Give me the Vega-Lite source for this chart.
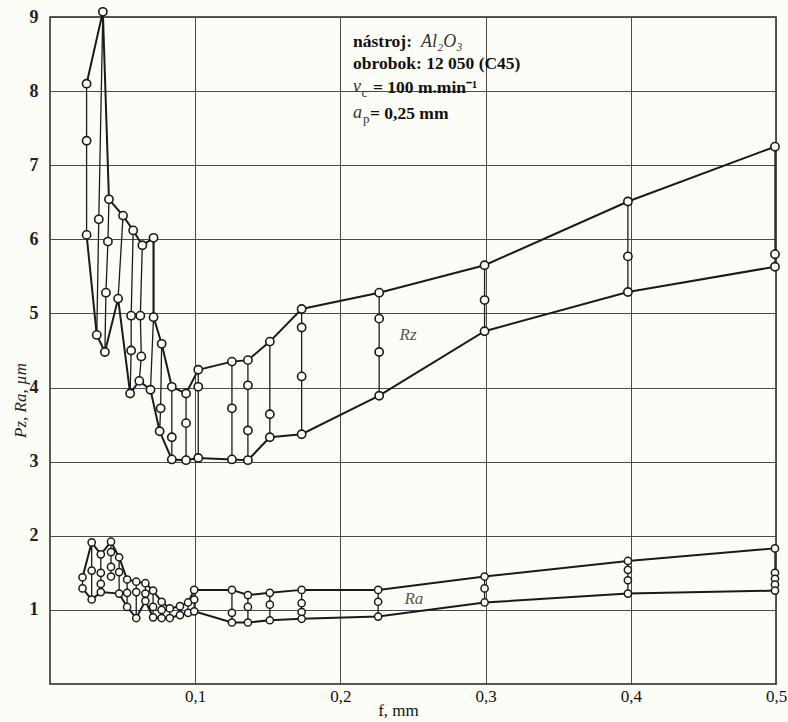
{
  "$schema": "https://vega.github.io/schema/vega-lite/v6.json",
  "width": 726,
  "height": 667,
  "autosize": {"type": "none"},
  "padding": {"left": 50, "top": 17, "right": 12, "bottom": 38},
  "background": "#fdfdf8",
  "config": {"view": {"stroke": "#222222", "strokeWidth": 1.5}, "font": "Liberation Serif"},
  "datasets": {
    "pts": [
      {"s":"Rz","c":"Z1","f":0.0252,"v":8.1},{"s":"Rz","c":"Z1","f":0.0252,"v":7.33},{"s":"Rz","c":"Z1","f":0.0252,"v":6.06},
      {"s":"Rz","c":"Z2","f":0.0364,"v":9.07},{"s":"Rz","c":"Z2","f":0.0336,"v":6.27},{"s":"Rz","c":"Z2","f":0.0322,"v":4.71},
      {"s":"Rz","c":"Z3","f":0.0406,"v":6.54},{"s":"Rz","c":"Z3","f":0.0399,"v":5.97},{"s":"Rz","c":"Z3","f":0.0385,"v":5.28},{"s":"Rz","c":"Z3","f":0.0378,"v":4.48},
      {"s":"Rz","c":"Z4","f":0.0503,"v":6.32},{"s":"Rz","c":"Z4","f":0.0469,"v":5.2},
      {"s":"Rz","c":"Z5","f":0.0573,"v":6.12},{"s":"Rz","c":"Z5","f":0.0559,"v":4.97},{"s":"Rz","c":"Z5","f":0.0559,"v":4.5},{"s":"Rz","c":"Z5","f":0.0552,"v":3.92},
      {"s":"Rz","c":"Z6","f":0.0636,"v":5.92},{"s":"Rz","c":"Z6","f":0.0622,"v":4.97},{"s":"Rz","c":"Z6","f":0.0629,"v":4.42},{"s":"Rz","c":"Z6","f":0.0615,"v":4.09},
      {"s":"Rz","c":"Z7","f":0.0713,"v":6.02},{"s":"Rz","c":"Z7","f":0.0713,"v":4.95},{"s":"Rz","c":"Z7","f":0.0692,"v":3.97},
      {"s":"Rz","c":"Z8","f":0.0769,"v":4.59},{"s":"Rz","c":"Z8","f":0.0762,"v":3.72},{"s":"Rz","c":"Z8","f":0.0755,"v":3.41},
      {"s":"Rz","c":"Z9","f":0.0839,"v":4.01},{"s":"Rz","c":"Z9","f":0.0839,"v":3.33},{"s":"Rz","c":"Z9","f":0.0839,"v":3.03},
      {"s":"Rz","c":"Z10","f":0.0937,"v":3.92},{"s":"Rz","c":"Z10","f":0.0937,"v":3.52},{"s":"Rz","c":"Z10","f":0.0937,"v":3.02},
      {"s":"Rz","c":"Z11","f":0.1021,"v":4.24},{"s":"Rz","c":"Z11","f":0.1021,"v":4.01},{"s":"Rz","c":"Z11","f":0.1021,"v":3.05},
      {"s":"Rz","c":"Z12","f":0.1253,"v":4.35},{"s":"Rz","c":"Z12","f":0.1253,"v":3.72},{"s":"Rz","c":"Z12","f":0.1253,"v":3.03},
      {"s":"Rz","c":"Z13","f":0.1363,"v":4.37},{"s":"Rz","c":"Z13","f":0.1363,"v":4.03},{"s":"Rz","c":"Z13","f":0.1363,"v":3.42},{"s":"Rz","c":"Z13","f":0.1363,"v":3.02},
      {"s":"Rz","c":"Z14","f":0.1514,"v":4.62},{"s":"Rz","c":"Z14","f":0.1514,"v":3.64},{"s":"Rz","c":"Z14","f":0.1514,"v":3.33},
      {"s":"Rz","c":"Z15","f":0.1733,"v":5.06},{"s":"Rz","c":"Z15","f":0.1733,"v":4.81},{"s":"Rz","c":"Z15","f":0.1733,"v":4.15},{"s":"Rz","c":"Z15","f":0.1733,"v":3.37},
      {"s":"Rz","c":"Z16","f":0.2267,"v":5.28},{"s":"Rz","c":"Z16","f":0.2267,"v":4.93},{"s":"Rz","c":"Z16","f":0.2267,"v":4.48},{"s":"Rz","c":"Z16","f":0.2267,"v":3.89},
      {"s":"Rz","c":"Z17","f":0.2993,"v":5.65},{"s":"Rz","c":"Z17","f":0.2993,"v":5.18},{"s":"Rz","c":"Z17","f":0.2993,"v":4.76},
      {"s":"Rz","c":"Z18","f":0.398,"v":6.51},{"s":"Rz","c":"Z18","f":0.398,"v":5.77},{"s":"Rz","c":"Z18","f":0.398,"v":5.29},
      {"s":"Rz","c":"Z19","f":0.4993,"v":7.25},{"s":"Rz","c":"Z19","f":0.4993,"v":5.8},{"s":"Rz","c":"Z19","f":0.4993,"v":5.63},
      {"s":"Ra","c":"A1","f":0.0224,"v":1.44},{"s":"Ra","c":"A1","f":0.0224,"v":1.29},
      {"s":"Ra","c":"A2","f":0.0287,"v":1.91},{"s":"Ra","c":"A2","f":0.0287,"v":1.53},{"s":"Ra","c":"A2","f":0.0287,"v":1.14},
      {"s":"Ra","c":"A3","f":0.035,"v":1.75},{"s":"Ra","c":"A3","f":0.035,"v":1.5},{"s":"Ra","c":"A3","f":0.035,"v":1.35},{"s":"Ra","c":"A3","f":0.035,"v":1.24},
      {"s":"Ra","c":"A4","f":0.042,"v":1.92},{"s":"Ra","c":"A4","f":0.042,"v":1.78},{"s":"Ra","c":"A4","f":0.042,"v":1.58},{"s":"Ra","c":"A4","f":0.042,"v":1.45},
      {"s":"Ra","c":"A5","f":0.0476,"v":1.71},{"s":"Ra","c":"A5","f":0.0476,"v":1.51},{"s":"Ra","c":"A5","f":0.0476,"v":1.22},
      {"s":"Ra","c":"A6","f":0.0531,"v":1.41},{"s":"Ra","c":"A6","f":0.0531,"v":1.23},{"s":"Ra","c":"A6","f":0.0531,"v":1.04},
      {"s":"Ra","c":"A7","f":0.0594,"v":1.38},{"s":"Ra","c":"A7","f":0.0594,"v":1.24},{"s":"Ra","c":"A7","f":0.0594,"v":0.89},
      {"s":"Ra","c":"A8","f":0.0657,"v":1.36},{"s":"Ra","c":"A8","f":0.0657,"v":1.22},{"s":"Ra","c":"A8","f":0.0657,"v":1.12},
      {"s":"Ra","c":"A9","f":0.071,"v":1.26},{"s":"Ra","c":"A9","f":0.071,"v":1.04},{"s":"Ra","c":"A9","f":0.071,"v":0.9},
      {"s":"Ra","c":"A10","f":0.0769,"v":1.11},{"s":"Ra","c":"A10","f":0.0769,"v":1.0},{"s":"Ra","c":"A10","f":0.0769,"v":0.89},
      {"s":"Ra","c":"A11","f":0.0825,"v":1.02},{"s":"Ra","c":"A11","f":0.0825,"v":0.89},
      {"s":"Ra","c":"A12","f":0.0895,"v":1.05},{"s":"Ra","c":"A12","f":0.0895,"v":0.93},
      {"s":"Ra","c":"A13","f":0.0951,"v":1.1},{"s":"Ra","c":"A13","f":0.0951,"v":0.96},
      {"s":"Ra","c":"A14","f":0.0993,"v":1.27},{"s":"Ra","c":"A14","f":0.0993,"v":1.14},{"s":"Ra","c":"A14","f":0.0993,"v":0.98},
      {"s":"Ra","c":"A15","f":0.1253,"v":1.27},{"s":"Ra","c":"A15","f":0.1253,"v":0.96},{"s":"Ra","c":"A15","f":0.1253,"v":0.83},
      {"s":"Ra","c":"A16","f":0.1363,"v":1.2},{"s":"Ra","c":"A16","f":0.1363,"v":1.04},{"s":"Ra","c":"A16","f":0.1363,"v":0.83},
      {"s":"Ra","c":"A17","f":0.1514,"v":1.23},{"s":"Ra","c":"A17","f":0.1514,"v":1.07},{"s":"Ra","c":"A17","f":0.1514,"v":0.86},
      {"s":"Ra","c":"A18","f":0.1733,"v":1.27},{"s":"Ra","c":"A18","f":0.1733,"v":1.09},{"s":"Ra","c":"A18","f":0.1733,"v":0.97},{"s":"Ra","c":"A18","f":0.1733,"v":0.88},
      {"s":"Ra","c":"A19","f":0.226,"v":1.27},{"s":"Ra","c":"A19","f":0.226,"v":1.11},{"s":"Ra","c":"A19","f":0.226,"v":0.91},
      {"s":"Ra","c":"A20","f":0.2993,"v":1.45},{"s":"Ra","c":"A20","f":0.2993,"v":1.29},{"s":"Ra","c":"A20","f":0.2993,"v":1.1},
      {"s":"Ra","c":"A21","f":0.398,"v":1.66},{"s":"Ra","c":"A21","f":0.398,"v":1.54},{"s":"Ra","c":"A21","f":0.398,"v":1.4},{"s":"Ra","c":"A21","f":0.398,"v":1.22},
      {"s":"Ra","c":"A22","f":0.4993,"v":1.83},{"s":"Ra","c":"A22","f":0.4993,"v":1.5},{"s":"Ra","c":"A22","f":0.4993,"v":1.42},{"s":"Ra","c":"A22","f":0.4993,"v":1.34},{"s":"Ra","c":"A22","f":0.4993,"v":1.26}
    ],
    "env": [
      {"g":"Zu","i":1,"f":0.0252,"v":8.1},{"g":"Zu","i":2,"f":0.0364,"v":9.07},{"g":"Zu","i":3,"f":0.0406,"v":6.54},{"g":"Zu","i":4,"f":0.0503,"v":6.32},
      {"g":"Zu","i":5,"f":0.0573,"v":6.12},{"g":"Zu","i":6,"f":0.0636,"v":5.92},{"g":"Zu","i":7,"f":0.0713,"v":6.02},{"g":"Zu","i":8,"f":0.0713,"v":4.95},
      {"g":"Zu","i":9,"f":0.0769,"v":4.59},{"g":"Zu","i":10,"f":0.0839,"v":4.01},{"g":"Zu","i":11,"f":0.0937,"v":3.92},{"g":"Zu","i":12,"f":0.1021,"v":4.24},
      {"g":"Zu","i":13,"f":0.1253,"v":4.35},{"g":"Zu","i":14,"f":0.1363,"v":4.37},{"g":"Zu","i":15,"f":0.1514,"v":4.62},{"g":"Zu","i":16,"f":0.1733,"v":5.06},
      {"g":"Zu","i":17,"f":0.2267,"v":5.28},{"g":"Zu","i":18,"f":0.2993,"v":5.65},{"g":"Zu","i":19,"f":0.398,"v":6.51},{"g":"Zu","i":20,"f":0.4993,"v":7.25},
      {"g":"Zl","i":1,"f":0.0252,"v":6.06},{"g":"Zl","i":2,"f":0.0322,"v":4.71},{"g":"Zl","i":3,"f":0.0378,"v":4.48},{"g":"Zl","i":4,"f":0.0469,"v":5.2},
      {"g":"Zl","i":5,"f":0.0552,"v":3.92},{"g":"Zl","i":6,"f":0.0615,"v":4.09},{"g":"Zl","i":7,"f":0.0692,"v":3.97},{"g":"Zl","i":8,"f":0.0755,"v":3.41},
      {"g":"Zl","i":9,"f":0.0839,"v":3.03},{"g":"Zl","i":10,"f":0.0937,"v":3.02},{"g":"Zl","i":11,"f":0.1021,"v":3.05},{"g":"Zl","i":12,"f":0.1253,"v":3.03},
      {"g":"Zl","i":13,"f":0.1363,"v":3.02},{"g":"Zl","i":14,"f":0.1514,"v":3.33},{"g":"Zl","i":15,"f":0.1733,"v":3.37},{"g":"Zl","i":16,"f":0.2267,"v":3.89},
      {"g":"Zl","i":17,"f":0.2993,"v":4.76},{"g":"Zl","i":18,"f":0.398,"v":5.29},{"g":"Zl","i":19,"f":0.4993,"v":5.63},
      {"g":"Au","i":1,"f":0.0224,"v":1.44},{"g":"Au","i":2,"f":0.0287,"v":1.91},{"g":"Au","i":3,"f":0.035,"v":1.75},{"g":"Au","i":4,"f":0.042,"v":1.92},
      {"g":"Au","i":5,"f":0.0476,"v":1.71},{"g":"Au","i":6,"f":0.0531,"v":1.41},{"g":"Au","i":7,"f":0.0594,"v":1.38},{"g":"Au","i":8,"f":0.0657,"v":1.36},
      {"g":"Au","i":9,"f":0.071,"v":1.26},{"g":"Au","i":10,"f":0.0769,"v":1.11},{"g":"Au","i":11,"f":0.0825,"v":1.02},{"g":"Au","i":12,"f":0.0895,"v":1.05},
      {"g":"Au","i":13,"f":0.0951,"v":1.1},{"g":"Au","i":14,"f":0.0993,"v":1.27},{"g":"Au","i":15,"f":0.1253,"v":1.27},{"g":"Au","i":16,"f":0.1363,"v":1.2},
      {"g":"Au","i":17,"f":0.1514,"v":1.23},{"g":"Au","i":18,"f":0.1733,"v":1.27},{"g":"Au","i":19,"f":0.226,"v":1.27},{"g":"Au","i":20,"f":0.2993,"v":1.45},
      {"g":"Au","i":21,"f":0.398,"v":1.66},{"g":"Au","i":22,"f":0.4993,"v":1.83},
      {"g":"Al","i":1,"f":0.0224,"v":1.29},{"g":"Al","i":2,"f":0.0287,"v":1.14},{"g":"Al","i":3,"f":0.035,"v":1.24},{"g":"Al","i":4,"f":0.0476,"v":1.22},
      {"g":"Al","i":5,"f":0.0531,"v":1.04},{"g":"Al","i":6,"f":0.0594,"v":0.89},{"g":"Al","i":7,"f":0.0657,"v":1.12},{"g":"Al","i":8,"f":0.071,"v":0.9},
      {"g":"Al","i":9,"f":0.0769,"v":0.89},{"g":"Al","i":10,"f":0.0825,"v":0.89},{"g":"Al","i":11,"f":0.0895,"v":0.93},{"g":"Al","i":12,"f":0.0951,"v":0.96},
      {"g":"Al","i":13,"f":0.0993,"v":0.98},{"g":"Al","i":14,"f":0.1253,"v":0.83},{"g":"Al","i":15,"f":0.1363,"v":0.83},{"g":"Al","i":16,"f":0.1514,"v":0.86},
      {"g":"Al","i":17,"f":0.1733,"v":0.88},{"g":"Al","i":18,"f":0.226,"v":0.91},{"g":"Al","i":19,"f":0.2993,"v":1.1},{"g":"Al","i":20,"f":0.398,"v":1.22},
      {"g":"Al","i":21,"f":0.4993,"v":1.26}
    ],
    "notes": [
      {"role":"b","t":"nástroj:","f":0.2087,"v":8.66},
      {"role":"i","t":"Al₂O₃","f":0.2555,"v":8.66},
      {"role":"b","t":"obrobok: 12 050 (C45)","f":0.2087,"v":8.37},
      {"role":"i","t":"v","f":0.2087,"v":8.06},
      {"role":"s","t":"c","f":0.2145,"v":7.97},
      {"role":"b","t":"= 100 m.min⁻¹","f":0.2224,"v":8.04},
      {"role":"i","t":"a","f":0.2087,"v":7.71},
      {"role":"s","t":"p","f":0.2156,"v":7.63},
      {"role":"b","t":"= 0,25 mm","f":0.2204,"v":7.69},
      {"role":"g","t":"Rz","f":0.2466,"v":4.71},
      {"role":"g","t":"Ra","f":0.2506,"v":1.15}
    ]
  },
  "encoding": {
    "x": {
      "field": "f", "type": "quantitative",
      "scale": {"domain": [0, 0.5], "nice": false, "zero": false},
      "axis": {
        "values": [0.1, 0.2, 0.3, 0.4, 0.5],
        "grid": true, "gridColor": "#4a4a4a", "gridWidth": 1,
        "domain": false, "ticks": false, "labelPadding": 4, "labelFlush": false,
        "labelFont": "Liberation Serif", "labelFontSize": 17, "labelColor": "#111111",
        "labelExpr": "replace(format(datum.value, '.1f'), '.', ',')",
        "title": "f, mm", "titleFont": "Liberation Serif", "titleFontSize": 17,
        "titleFontWeight": "normal", "titleColor": "#111111",
        "titleX": 348, "titleY": 18, "titleBaseline": "top", "titleAlign": "center"
      }
    },
    "y": {
      "field": "v", "type": "quantitative",
      "scale": {"domain": [0, 9], "nice": false, "zero": false},
      "axis": {
        "values": [1, 2, 3, 4, 5, 6, 7, 8, 9],
        "grid": true, "gridColor": "#4a4a4a", "gridWidth": 1,
        "domain": false, "ticks": false, "labelPadding": 12,
        "labelFont": "Liberation Serif", "labelFontSize": 18, "labelFontWeight": "bold", "labelColor": "#222222",
        "title": "Pz, Ra, µm", "titleFont": "Liberation Serif", "titleFontSize": 17,
        "titleFontWeight": "normal", "titleFontStyle": "italic", "titleColor": "#222222",
        "titleX": -30, "titleY": 383, "titleBaseline": "middle", "titleAlign": "center", "titleAngle": -90
      }
    }
  },
  "layer": [
    {
      "data": {"name": "pts"},
      "mark": {"type": "line", "color": "#1a1a1a", "strokeWidth": 1.3},
      "encoding": {"detail": {"field": "c"}, "order": {"field": "v", "type": "quantitative"}}
    },
    {
      "data": {"name": "env"},
      "mark": {"type": "line", "color": "#1a1a1a", "strokeWidth": 2},
      "encoding": {"detail": {"field": "g"}, "order": {"field": "i", "type": "quantitative"}}
    },
    {
      "data": {"name": "pts"},
      "transform": [{"filter": "datum.s === 'Rz'"}],
      "mark": {"type": "point", "filled": true, "fill": "#fdfdf8", "stroke": "#1a1a1a", "strokeWidth": 1.6, "size": 68, "opacity": 1}
    },
    {
      "data": {"name": "pts"},
      "transform": [{"filter": "datum.s === 'Ra'"}],
      "mark": {"type": "point", "filled": true, "fill": "#fdfdf8", "stroke": "#1a1a1a", "strokeWidth": 1.5, "size": 52, "opacity": 1}
    },
    {
      "data": {"name": "notes"},
      "transform": [{"filter": "datum.role === 'b'"}],
      "mark": {"type": "text", "align": "left", "baseline": "middle", "font": "Liberation Serif", "fontSize": 17.5, "fontWeight": "bold", "color": "#111111"},
      "encoding": {"text": {"field": "t"}}
    },
    {
      "data": {"name": "notes"},
      "transform": [{"filter": "datum.role === 'i'"}],
      "mark": {"type": "text", "align": "left", "baseline": "middle", "font": "Liberation Serif", "fontSize": 18, "fontStyle": "italic", "color": "#333333"},
      "encoding": {"text": {"field": "t"}}
    },
    {
      "data": {"name": "notes"},
      "transform": [{"filter": "datum.role === 's'"}],
      "mark": {"type": "text", "align": "left", "baseline": "middle", "font": "Liberation Serif", "fontSize": 13, "color": "#333333"},
      "encoding": {"text": {"field": "t"}}
    },
    {
      "data": {"name": "notes"},
      "transform": [{"filter": "datum.role === 'g'"}],
      "mark": {"type": "text", "align": "center", "baseline": "middle", "font": "Liberation Serif", "fontSize": 17, "fontStyle": "italic", "color": "#555555"},
      "encoding": {"text": {"field": "t"}}
    }
  ]
}
